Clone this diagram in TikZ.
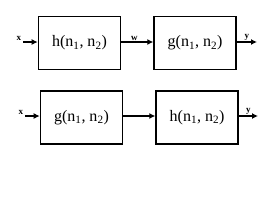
\documentclass[tikz,border=0pt]{standalone}
\usepackage{fontspec}
\setmainfont{Liberation Serif}
\usepackage{tikz}
\usetikzlibrary{arrows.meta,positioning}

\begin{document}
\begin{tikzpicture}[
    x=1pt, y=-1pt,
    node distance=32pt,
    block/.style={rectangle, draw=black, line width=1.6pt, minimum width=82pt, minimum height=53pt, font=\fontsize{16}{18}\selectfont},
    sig/.style={font=\bfseries\fontsize{9}{10}\selectfont, inner sep=1pt},
    arrow/.style={-{Latex[length=6pt, width=6pt]}, line width=1.6pt}
]
    \useasboundingbox (0,0) rectangle (272,204);

    % top row: h then g
    \node [block] (h1) at (79.5,43) {h(n\textsubscript{1}, n\textsubscript{2})};
    \node [block, right=of h1] (g1) {g(n\textsubscript{1}, n\textsubscript{2})};
    \coordinate (in1) at (23,42);
    \coordinate (out1) at (257,42);

    % bottom row: g then h
    \node [block] (g2) at (81.5,117.5) {g(n\textsubscript{1}, n\textsubscript{2})};
    \node [block, right=of g2] (h2) {h(n\textsubscript{1}, n\textsubscript{2})};
    \coordinate (in2) at (25,116);
    \coordinate (out2) at (258,116);

    \draw [arrow] (in1) node [sig, anchor=south east] (x1) {x} -- (h1.west |- in1);
    \draw [arrow] (h1.east |- in1) -- node [sig, above, xshift=-3pt] (w) {w} (g1.west |- in1);
    \draw [arrow] (g1.east |- in1) -- node [sig, above] (y1) {y} (out1);

    \draw [arrow] (in2) node [sig, anchor=south east] (x2) {x} -- (g2.west |- in2);
    \draw [arrow] (g2.east |- in2) -- (h2.west |- in2);
    \draw [arrow] (h2.east |- in2) -- node [sig, above] (y2) {y} (out2);
\end{tikzpicture}
\end{document}
